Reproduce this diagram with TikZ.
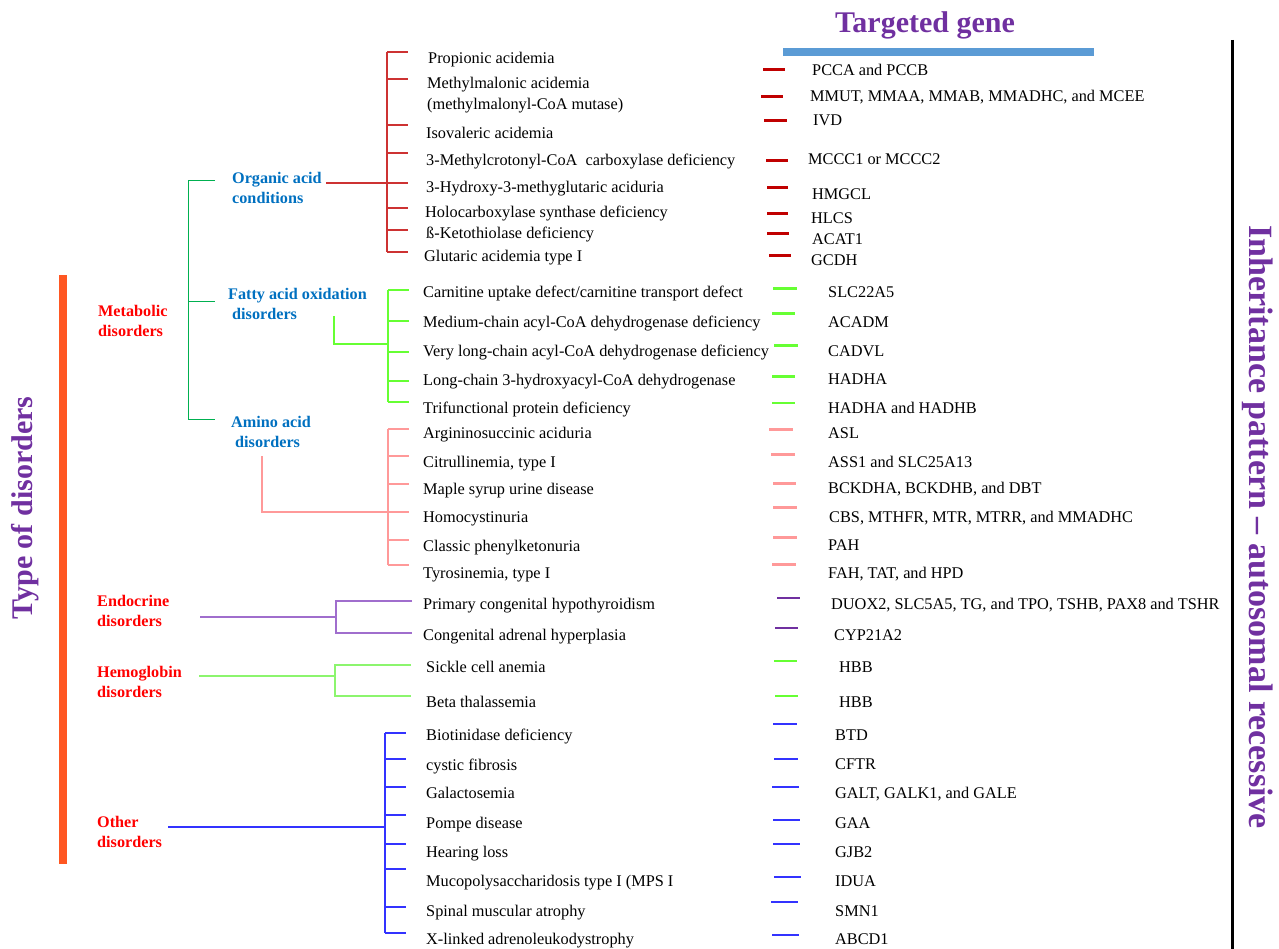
\documentclass[tikz,border=0pt]{standalone}
\usepackage{fontspec}
\setmainfont{Liberation Serif}
\definecolor{purpleT}{RGB}{112,48,160}
\definecolor{barBlue}{RGB}{91,155,213}
\definecolor{catBlue}{RGB}{0,112,192}
\definecolor{catRed}{RGB}{255,0,0}
\definecolor{barOrange}{RGB}{255,87,34}
\definecolor{darkRed}{RGB}{192,0,0}
\definecolor{orgRed}{RGB}{205,50,50}
\definecolor{treeGreen}{RGB}{0,176,80}
\definecolor{limeG}{RGB}{102,255,51}
\definecolor{pinkL}{RGB}{255,153,153}
\definecolor{purpleL}{RGB}{160,110,205}
\definecolor{hemoG}{RGB}{140,245,110}
\definecolor{blueL}{RGB}{51,51,255}
\begin{document}
\begin{tikzpicture}[x=1pt,y=-1pt,
  dtext/.style={font=\fontsize{16.3}{19}\selectfont, inner sep=0pt, anchor=base west, yshift=-5.5pt},
  dtwo/.style={font=\fontsize{16.3}{21}\selectfont, inner sep=0pt, anchor=west, align=left},
  catB/.style={font=\fontsize{16.2}{20}\selectfont\bfseries, text=catBlue, inner sep=0pt, anchor=west, align=left},
  catR/.style={font=\fontsize{16.2}{20}\selectfont\bfseries, text=catRed, inner sep=0pt, anchor=west, align=left},
  bigtitle/.style={font=\fontsize{30}{34}\selectfont\bfseries, text=purpleT, inner sep=0pt},
  lnOrg/.style={draw=orgRed, line width=1.2pt},
  lnTree/.style={draw=treeGreen, line width=1pt},
  lnFat/.style={draw=limeG, line width=2pt},
  lnAmino/.style={draw=pinkL, line width=1.6pt},
  lnEndo/.style={draw=purpleL, line width=1.3pt},
  lnHemo/.style={draw=hemoG, line width=1.3pt},
  lnOther/.style={draw=blueL, line width=1.5pt},
  dashRed/.style={draw=darkRed, line width=3pt},
  dashGreen/.style={draw=limeG, line width=3pt},
  dashGreenThin/.style={draw=limeG, line width=1.2pt},
  dashPink/.style={draw=pinkL, line width=3pt},
  dashPurple/.style={draw=purpleT, line width=1.1pt},
  dashBlue/.style={draw=blueL, line width=1.1pt}
]
\useasboundingbox (0,0) rectangle (1279,949);

% ---------- titles and frame elements ----------
\node[bigtitle, anchor=base] (title) at (925,33) {Targeted gene};
\fill[barBlue] (783,48) rectangle (1094,56);
\coordinate (blTop) at (1232,40);
\coordinate (blBot) at (1232,949);
\draw[black, line width=3pt] (blTop) -- (blBot);
\node[font=\fontsize{34}{38}\selectfont\bfseries, text=purpleT, inner sep=0pt, rotate=-90] (inh) at (1258,527) {Inheritance pattern – autosomal recessive};
\node[font=\fontsize{30}{34}\selectfont\bfseries, text=purpleT, inner sep=0pt, rotate=90] (tod) at (25,508) {Type of disorders};
\fill[barOrange] (59,275) rectangle (67,864);

% ---------- category labels ----------
\node[catR] (metab) at (98,321) {Metabolic\\disorders};
\node[catR] (endo) at (97,611) {Endocrine\\disorders};
\node[catR] (hemo) at (97,682) {Hemoglobin\\disorders};
\node[catR] (other) at (97,832) {Other\\disorders};
\node[catB] (organic) at (232,188) {Organic acid\\conditions};
\node[catB] (fatty) at (228,304) {Fatty acid oxidation\\\hspace*{4pt}disorders};
\node[catB] (amino) at (231,432) {Amino acid\\\hspace*{4pt}disorders};

% ---------- metabolic tree (green) ----------
\coordinate (mTop) at (188,181);
\coordinate (mMid) at (188,302);
\coordinate (mBot) at (188,419);
\draw[lnTree] (215,181) -- (mTop) -- (mBot) -- (215,419);
\draw[lnTree] (mMid) -- (215,302);

% ---------- organic acid bracket ----------
\coordinate (oTop) at (387,52);
\coordinate (oBot) at (387,252);
\coordinate (oJoin) at (387,183);
\draw[lnOrg] (oTop) -- (oBot);
\draw[lnOrg] (326,183) -- (oJoin);
\foreach \yy in {52,79,125,153,183,208,230,252}
  \draw[lnOrg] (387,\yy) -- (408,\yy);

% ---------- fatty acid bracket ----------
\coordinate (fTop) at (388,290);
\coordinate (fBot) at (388,402);
\coordinate (fJoin) at (388,344);
\draw[lnFat] (fTop) -- (fBot);
\draw[lnFat] (334,316) -- (334,344) -- (fJoin);
\foreach \yy in {290,321,352,381,402}
  \draw[lnFat] (388,\yy) -- (409,\yy);

% ---------- amino acid bracket ----------
\coordinate (aTop) at (388,429);
\coordinate (aBot) at (388,565);
\coordinate (aJoin) at (388,512);
\draw[lnAmino] (aTop) -- (aBot);
\draw[lnAmino] (262,456) -- (262,512) -- (aJoin);
\foreach \yy in {429,456,484,512,540,565}
  \draw[lnAmino] (388,\yy) -- (409,\yy);

% ---------- endocrine bracket ----------
\coordinate (eJoin) at (336,617);
\draw[lnEndo] (200,617) -- (eJoin);
\draw[lnEndo] (412,601) -- (336,601) -- (336,633) -- (412,633);

% ---------- hemoglobin bracket ----------
\coordinate (hJoin) at (335,676);
\draw[lnHemo] (199,676) -- (hJoin);
\draw[lnHemo] (411,665) -- (335,665) -- (335,696) -- (411,696);

% ---------- other bracket ----------
\coordinate (xTop) at (385,733);
\coordinate (xBot) at (385,933);
\coordinate (xJoin) at (385,827);
\draw[lnOther] (xTop) -- (xBot);
\draw[lnOther] (168,827) -- (xJoin);
\foreach \yy in {733,759,787,815,844,869,907,933}
  \draw[lnOther] (385,\yy) -- (406,\yy);

% ---------- disease names ----------
\node[dtext] (d1) at (428,58) {Propionic acidemia};
\node[dtwo] (d2) at (427,95) {Methylmalonic acidemia\\(methylmalonyl-CoA mutase)};
\node[dtext] (d3) at (426,133) {Isovaleric acidemia};
\node[dtext] (d4) at (426,160) {3-Methylcrotonyl-CoA\ \ carboxylase deficiency};
\node[dtext] (d5) at (426,187) {3-Hydroxy-3-methyglutaric aciduria};
\node[dtext] (d6) at (425,212) {Holocarboxylase synthase deficiency};
\node[dtext] (d7) at (426,233) {ß-Ketothiolase deficiency};
\node[dtext] (d8) at (424,256) {Glutaric acidemia type I};
\node[dtext] (d9) at (423,292) {Carnitine uptake defect/carnitine transport defect};
\node[dtext] (d10) at (423,322) {Medium-chain acyl-CoA dehydrogenase deficiency};
\node[dtext] (d11) at (423,351) {Very long-chain acyl-CoA dehydrogenase deficiency};
\node[dtext] (d12) at (423,380) {Long-chain 3-hydroxyacyl-CoA dehydrogenase};
\node[dtext] (d13) at (423,408) {Trifunctional protein deficiency};
\node[dtext] (d14) at (423,433) {Argininosuccinic aciduria};
\node[dtext] (d15) at (423,462) {Citrullinemia, type I};
\node[dtext] (d16) at (423,489) {Maple syrup urine disease};
\node[dtext] (d17) at (423,517) {Homocystinuria};
\node[dtext] (d18) at (423,546) {Classic phenylketonuria};
\node[dtext] (d19) at (423,573) {Tyrosinemia, type I};
\node[dtext] (d20) at (423,604) {Primary congenital hypothyroidism};
\node[dtext] (d21) at (423,635) {Congenital adrenal hyperplasia};
\node[dtext] (d22) at (426,667) {Sickle cell anemia};
\node[dtext] (d23) at (426,702) {Beta thalassemia};
\node[dtext] (d24) at (426,735) {Biotinidase deficiency};
\node[dtext] (d25) at (426,765) {cystic fibrosis};
\node[dtext] (d26) at (426,793) {Galactosemia};
\node[dtext] (d27) at (426,823) {Pompe disease};
\node[dtext] (d28) at (426,852) {Hearing loss};
\node[dtext] (d29) at (426,881) {Mucopolysaccharidosis type I (MPS I};
\node[dtext] (d30) at (426,911) {Spinal muscular atrophy};
\node[dtext] (d31) at (426,939) {X-linked adrenoleukodystrophy};

% ---------- gene dashes ----------
\draw[dashRed] (763,70) -- (785,70);
\draw[dashRed] (761,97) -- (783,97);
\draw[dashRed] (764,121) -- (787,121);
\draw[dashRed] (766,161) -- (788,161);
\draw[dashRed] (767,188) -- (788,188);
\draw[dashRed] (767,214) -- (788,214);
\draw[dashRed] (767,234) -- (789,234);
\draw[dashRed] (769,256) -- (791,256);
\draw[dashGreen] (773,289) -- (797,289);
\draw[dashGreen] (772,314) -- (795,314);
\draw[dashGreen] (774,346) -- (798,346);
\draw[dashGreen] (772,376) -- (795,376);
\draw[dashGreenThin] (772,403) -- (795,403);
\draw[dashPink] (769,429) -- (793,429);
\draw[dashPink] (771,454) -- (795,454);
\draw[dashPink] (773,483) -- (796,483);
\draw[dashPink] (773,507) -- (797,507);
\draw[dashPink] (773,537) -- (797,537);
\draw[dashPink] (772,564) -- (796,564);
\draw[dashPurple] (777,598) -- (800,598);
\draw[dashPurple] (775,628) -- (798,628);
\draw[dashGreenThin] (774,661) -- (797,661);
\draw[dashGreenThin] (775,696) -- (798,696);
\draw[dashBlue] (773,724) -- (797,724);
\draw[dashBlue] (774,759) -- (798,759);
\draw[dashBlue] (772,787) -- (799,787);
\draw[dashBlue] (773,820) -- (800,820);
\draw[dashBlue] (773,844) -- (800,844);
\draw[dashBlue] (774,877) -- (801,877);
\draw[dashBlue] (771,902) -- (798,902);
\draw[dashBlue] (772,935) -- (799,935);

% ---------- gene names ----------
\node[dtext] (g1) at (812,70) {PCCA and PCCB};
\node[dtext] (g2) at (810,96) {MMUT, MMAA, MMAB, MMADHC, and MCEE};
\node[dtext] (g3) at (813,120) {IVD};
\node[dtext] (g4) at (808,159) {MCCC1 or MCCC2};
\node[dtext] (g5) at (812,194) {HMGCL};
\node[dtext] (g6) at (811,218) {HLCS};
\node[dtext] (g7) at (812,239) {ACAT1};
\node[dtext] (g8) at (811,260) {GCDH};
\node[dtext] (g9) at (828,292) {SLC22A5};
\node[dtext] (g10) at (828,322) {ACADM};
\node[dtext] (g11) at (828,351) {CADVL};
\node[dtext] (g12) at (828,379) {HADHA};
\node[dtext] (g13) at (828,408) {HADHA and HADHB};
\node[dtext] (g14) at (828,433) {ASL};
\node[dtext] (g15) at (828,462) {ASS1 and SLC25A13};
\node[dtext] (g16) at (828,488) {BCKDHA, BCKDHB, and DBT};
\node[dtext] (g17) at (829,517) {CBS, MTHFR, MTR, MTRR, and MMADHC};
\node[dtext] (g18) at (828,545) {PAH};
\node[dtext] (g19) at (828,573) {FAH, TAT, and HPD};
\node[dtext] (g20) at (831,604) {DUOX2, SLC5A5, TG, and TPO, TSHB, PAX8 and TSHR};
\node[dtext] (g21) at (834,635) {CYP21A2};
\node[dtext] (g22) at (839,667) {HBB};
\node[dtext] (g23) at (839,702) {HBB};
\node[dtext] (g24) at (835,735) {BTD};
\node[dtext] (g25) at (835,764) {CFTR};
\node[dtext] (g26) at (835,793) {GALT, GALK1, and GALE};
\node[dtext] (g27) at (835,823) {GAA};
\node[dtext] (g28) at (835,852) {GJB2};
\node[dtext] (g29) at (835,881) {IDUA};
\node[dtext] (g30) at (835,911) {SMN1};
\node[dtext] (g31) at (835,939) {ABCD1};
\end{tikzpicture}
\end{document}
